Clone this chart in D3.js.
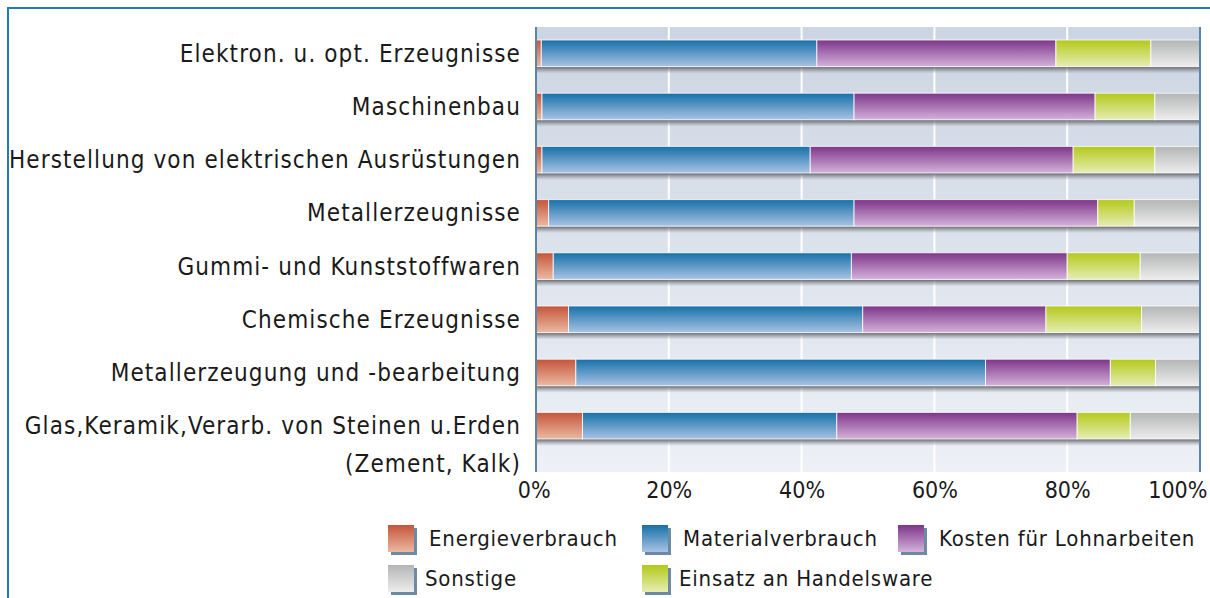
<!DOCTYPE html>
<html>
<head>
<meta charset="utf-8">
<script src="https://cdn.jsdelivr.net/npm/d3@7"></script>
<style>
  body { margin: 0; background: #fff; }
  svg { display: block; }
  text { font-family: "DejaVu Sans Condensed", "Roboto Condensed", sans-serif; fill: #1a1a1a; }
</style>
</head>
<body>
<div id="chart"></div>
<script>
// categories top to bottom
const categories = [
  "Elektron. u. opt. Erzeugnisse",
  "Maschinenbau",
  "Herstellung von elektrischen Ausrüstungen",
  "Metallerzeugnisse",
  "Gummi- und Kunststoffwaren",
  "Chemische Erzeugnisse",
  "Metallerzeugung und -bearbeitung",
  "Glas,Keramik,Verarb. von Steinen u.Erden"
];
const seriesNames = ["Energieverbrauch", "Materialverbrauch", "Kosten für Lohnarbeiten", "Einsatz an Handelsware", "Sonstige"];
// shares in percent
const energie   = [0.8, 0.9, 0.9, 1.9, 2.6, 4.9, 6.0, 7.0];
const material  = [41.5, 47.0, 40.4, 46.0, 44.9, 44.3, 61.7, 38.3];
const lohn      = [36.0, 36.3, 39.6, 36.7, 32.5, 27.6, 18.8, 36.2];
const handel    = [14.3, 9.0, 12.3, 5.5, 11.0, 14.4, 6.8, 8.0];
const sonstige  = [7.4, 6.8, 6.8, 9.9, 9.0, 8.8, 6.7, 10.5];
const xTicks = [0, 20, 40, 60, 80, 100];

const width = 1210, height = 598;
const plot = {left: 536, right: 1200, top: 27, bottom: 472};

const svg = d3.select("#chart").append("svg")
    .attr("width", width)
    .attr("height", height);

// gradients
const defs = svg.append("defs");
const grads = [
  ["g0", "#c4553a", "#ebb9a2"],
  ["g1", "#1670a8", "#a9c3e4"],
  ["g2", "#7e3589", "#d4b2da"],
  ["g3", "#b3c91a", "#e6edb4"],
  ["g4", "#b4b5b5", "#ededed"]
];
grads.forEach(([id, c1, c2]) => {
  const g = defs.append("linearGradient").attr("id", id)
      .attr("x1", 0).attr("y1", 0).attr("x2", 0).attr("y2", 1);
  g.append("stop").attr("offset", "0%").attr("stop-color", c1);
  g.append("stop").attr("offset", "100%").attr("stop-color", c2);
});
const bg = defs.append("linearGradient").attr("id", "bg")
    .attr("x1", 0).attr("y1", 0).attr("x2", 0).attr("y2", 1);
bg.append("stop").attr("offset", "0%").attr("stop-color", "#ccd5e2");
bg.append("stop").attr("offset", "100%").attr("stop-color", "#edf0f6");
const sh = defs.append("linearGradient").attr("id", "shadow")
    .attr("x1", 0).attr("y1", 0).attr("x2", 0).attr("y2", 1);
sh.append("stop").attr("offset", "0%").attr("stop-color", "#5e6165").attr("stop-opacity", 1);
sh.append("stop").attr("offset", "100%").attr("stop-color", "#8a8e95").attr("stop-opacity", 0);

// outer frame
svg.append("line").attr("x1", 7).attr("x2", width).attr("y1", 8).attr("y2", 8)
    .attr("stroke", "#1e7db8").attr("stroke-width", 2);
svg.append("line").attr("x1", 8).attr("x2", 8).attr("y1", 8).attr("y2", height)
    .attr("stroke", "#1e7db8").attr("stroke-width", 2);

const x = d3.scaleLinear().domain([0, 100]).range([plot.left, plot.right]);
const y = d3.scaleBand().domain(categories)
    .range([26.7, 452.3]).paddingInner(0.5).paddingOuter(0.25);

// plot background
svg.append("rect")
    .attr("x", plot.left).attr("y", plot.top)
    .attr("width", plot.right - plot.left).attr("height", plot.bottom - plot.top)
    .attr("fill", "url(#bg)");

// vertical gridlines
svg.append("g").selectAll("line")
    .data(xTicks.slice(1, -1))
    .join("line")
    .attr("x1", d => x(d)).attr("x2", d => x(d))
    .attr("y1", plot.top).attr("y2", plot.bottom)
    .attr("stroke", "#ffffff").attr("stroke-width", 2);

// stacked data
const rows = categories.map((c, i) => ({
  cat: c,
  Energieverbrauch: energie[i],
  Materialverbrauch: material[i],
  "Kosten für Lohnarbeiten": lohn[i],
  "Einsatz an Handelsware": handel[i],
  Sonstige: sonstige[i]
}));
const stack = d3.stack().keys(seriesNames)(rows);

// shadow under each bar
svg.append("g").selectAll("rect")
    .data(categories)
    .join("rect")
    .attr("x", plot.left).attr("width", plot.right - plot.left)
    .attr("y", d => y(d) + y.bandwidth())
    .attr("height", 7)
    .attr("fill", "url(#shadow)");

const layers = svg.append("g").selectAll("g")
    .data(stack)
    .join("g")
    .attr("fill", (d, i) => `url(#g${i})`);

layers.selectAll("rect")
    .data(d => d)
    .join("rect")
    .attr("x", d => x(d[0]))
    .attr("y", d => y(d.data.cat))
    .attr("width", d => x(d[1]) - x(d[0]))
    .attr("height", y.bandwidth())
    .attr("stroke", "#ffffff").attr("stroke-opacity", 0.8).attr("stroke-width", 1);

// axis lines left and right
svg.append("line").attr("x1", plot.left).attr("x2", plot.left)
    .attr("y1", plot.top).attr("y2", plot.bottom)
    .attr("stroke", "#5d83a7").attr("stroke-width", 2);
svg.append("line").attr("x1", plot.right).attr("x2", plot.right)
    .attr("y1", plot.top).attr("y2", plot.bottom)
    .attr("stroke", "#5d83a7").attr("stroke-width", 2);

// category labels
const labels = svg.append("g").attr("font-size", 24).attr("letter-spacing", "1.1px").attr("text-anchor", "end");
labels.selectAll("text")
    .data(categories)
    .join("text")
    .attr("x", 521)
    .attr("y", d => y(d) + y.bandwidth() / 2)
    .attr("dy", "0.35em")
    .text(d => d);
labels.append("text")
    .attr("x", 521)
    .attr("y", y(categories[7]) + y.bandwidth() / 2 + 38)
    .attr("dy", "0.35em")
    .text("(Zement, Kalk)");

// x axis
const xAxis = svg.append("g")
    .attr("transform", `translate(0,${plot.bottom})`)
    .call(d3.axisBottom(x).tickValues(xTicks).tickFormat(d => d + "%").tickSize(0).tickPadding(10));
xAxis.select(".domain").remove();
xAxis.selectAll("text").attr("font-size", 23).attr("fill", "#1a1a1a")
    .attr("font-family", "DejaVu Sans Condensed, sans-serif");
xAxis.selectAll(".tick text").filter(d => d === 100).attr("text-anchor", "end").attr("dx", "0.3em");
xAxis.selectAll(".tick text").filter(d => d === 0).attr("dx", "-0.1em");

// legend
const legendPos = [
  [388, 525], [642, 525], [898, 525], [642, 565], [388, 565]
];
const legend = svg.append("g").selectAll("g")
    .data(seriesNames)
    .join("g")
    .attr("transform", (d, i) => `translate(${legendPos[i][0]},${legendPos[i][1]})`);
legend.append("rect")
    .attr("x", 3).attr("y", 3).attr("width", 26).attr("height", 27)
    .attr("fill", "#6d8aa5");
legend.append("rect")
    .attr("width", 26).attr("height", 27)
    .attr("fill", (d, i) => `url(#g${i})`);
legend.append("text")
    .attr("x", (d, i) => i >= 3 ? 37 : 41)
    .attr("y", 13)
    .attr("dy", "0.35em")
    .attr("font-size", 22)
    .attr("letter-spacing", "0.8px")
    .text(d => d);
</script>
</body>
</html>
